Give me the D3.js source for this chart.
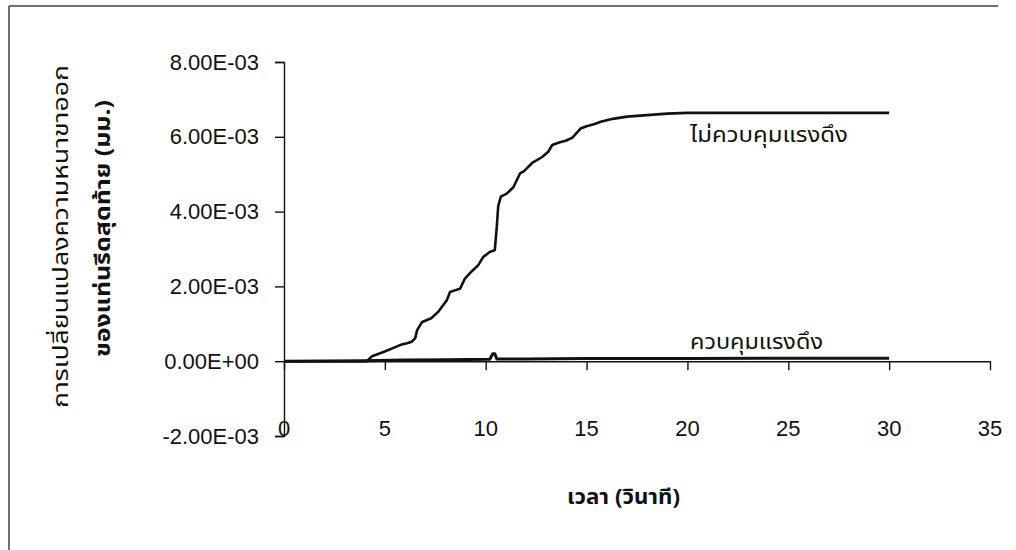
<!DOCTYPE html>
<html>
<head>
<meta charset="utf-8">
<script src="https://cdn.jsdelivr.net/npm/d3@7"></script>
<style>
  html, body { margin: 0; padding: 0; background: #fff; }
  svg { display: block; }
  .tick text { font-family: "Liberation Sans", Arial, sans-serif; }
</style>
</head>
<body>
<svg id="chart" width="1016" height="550"></svg>
<script>
// ---- data (values in mm) ----
const timeUncontrolled = [0, 4.1, 4.36, 4.9, 5.4, 5.75, 6.1, 6.33, 6.5, 6.6, 6.85, 7.3, 7.65, 8.07, 8.23, 8.5, 8.73, 8.97, 9.3, 9.63, 9.88, 10.2, 10.45, 10.55, 10.62, 10.75, 11.04, 11.37, 11.7, 11.9, 12.3, 12.8, 13.1, 13.3, 13.6, 14.0, 14.3, 14.7, 15.0, 15.4, 15.7, 16.3, 17.0, 18.0, 19.0, 20.0, 25.0, 30.0];
const valueUncontrolled = [0, 0, 0.13e-3, 0.24e-3, 0.35e-3, 0.43e-3, 0.48e-3, 0.52e-3, 0.61e-3, 0.83e-3, 1.05e-3, 1.15e-3, 1.32e-3, 1.63e-3, 1.85e-3, 1.90e-3, 1.94e-3, 2.21e-3, 2.40e-3, 2.57e-3, 2.79e-3, 2.92e-3, 2.97e-3, 3.60e-3, 4.15e-3, 4.40e-3, 4.48e-3, 4.65e-3, 5.02e-3, 5.08e-3, 5.30e-3, 5.46e-3, 5.60e-3, 5.78e-3, 5.84e-3, 5.90e-3, 5.98e-3, 6.22e-3, 6.28e-3, 6.34e-3, 6.40e-3, 6.48e-3, 6.54e-3, 6.58e-3, 6.62e-3, 6.64e-3, 6.64e-3, 6.64e-3];
const timeControlled = [0, 4, 6, 8, 10.2, 10.35, 10.45, 10.55, 12, 15, 20, 25, 30];
const valueControlled = [0, 0.01e-3, 0.03e-3, 0.04e-3, 0.05e-3, 0.20e-3, 0.20e-3, 0.06e-3, 0.06e-3, 0.07e-3, 0.07e-3, 0.08e-3, 0.08e-3];
const xTicks = [0, 5, 10, 15, 20, 25, 30, 35];
const yTicks = [-2e-3, 0, 2e-3, 4e-3, 6e-3, 8e-3];
const seriesNames = ["ไม่ควบคุมแรงดึง", "ควบคุมแรงดึง"];
const xTitle = "เวลา (วินาที)";
const yTitleLines = ["การเปลี่ยนแปลงความหนาขาออก", "ของแท่นรีดสุดท้าย (มม.)"];

const thaiFont = '"Noto Sans Thai", "Noto Sans Thai Looped", Loma, Garuda, "Tlwg Typo", "DejaVu Sans", "Noto Sans", sans-serif';

const svg = d3.select("#chart");

// frame
svg.append("line").attr("x1", 9).attr("x2", 998).attr("y1", 6).attr("y2", 6)
  .attr("stroke", "#444").attr("stroke-width", 1.5);
svg.append("line").attr("x1", 9).attr("x2", 9).attr("y1", 6).attr("y2", 550)
  .attr("stroke", "#444").attr("stroke-width", 1.5);

const x = d3.scaleLinear().domain([0, 35]).range([284, 990]);
const y = d3.scaleLinear().domain([-2e-3, 8e-3]).range([436, 62]);

function sci(v) {
  if (v === 0) return "0.00E+00";
  const e = Math.floor(Math.log10(Math.abs(v)) + 1e-9);
  const m = v / Math.pow(10, e);
  const es = (e < 0 ? "-" : "+") + String(Math.abs(e)).padStart(2, "0");
  return m.toFixed(2) + "E" + es;
}

// y axis
const yAxis = svg.append("g").attr("transform", `translate(${x(0)},0)`)
  .call(d3.axisLeft(y).tickValues(yTicks).tickSize(9).tickPadding(16).tickFormat(sci));
yAxis.select(".domain").attr("stroke", "#111").attr("stroke-width", 1.4);
yAxis.selectAll(".tick line").attr("stroke", "#111").attr("stroke-width", 1.4);
yAxis.selectAll(".tick text").attr("font-size", 22).attr("fill", "#111");

// x axis at y = 0
const xAxis = svg.append("g").attr("transform", `translate(0,${y(0)})`)
  .call(d3.axisBottom(x).tickValues(xTicks).tickSize(9).tickSizeOuter(0).tickFormat(""));
xAxis.select(".domain").attr("stroke", "#111").attr("stroke-width", 1.4);
xAxis.selectAll(".tick line").attr("stroke", "#111").attr("stroke-width", 1.4);

// x tick labels placed low
svg.append("g").selectAll("text").data(xTicks).join("text")
  .attr("x", d => x(d)).attr("y", 436)
  .attr("text-anchor", "middle")
  .attr("font-family", '"Liberation Sans", Arial, sans-serif')
  .attr("font-size", 22).attr("fill", "#111")
  .text(d => d);

// lines
const line = d3.line().x(d => x(d[0])).y(d => y(d[1]));
const dataU = timeUncontrolled.map((t, i) => [t, valueUncontrolled[i]]);
const dataC = timeControlled.map((t, i) => [t, valueControlled[i]]);

svg.append("path").datum(dataC).attr("d", line)
  .attr("fill", "none").attr("stroke", "#111").attr("stroke-width", 3).attr("stroke-linejoin", "round");
svg.append("path").datum(dataU).attr("d", line)
  .attr("fill", "none").attr("stroke", "#111").attr("stroke-width", 2.6).attr("stroke-linejoin", "round");

// series labels
svg.append("text").attr("x", 690).attr("y", 142)
  .attr("font-family", thaiFont).attr("font-size", 22).attr("fill", "#111")
  .attr("textLength", 158).attr("lengthAdjust", "spacingAndGlyphs")
  .text(seriesNames[0]);
svg.append("text").attr("x", 690).attr("y", 349)
  .attr("font-family", thaiFont).attr("font-size", 22).attr("fill", "#111")
  .attr("textLength", 133).attr("lengthAdjust", "spacingAndGlyphs")
  .text(seriesNames[1]);

// axis titles
svg.append("text").attr("x", 567).attr("y", 504)
  .attr("font-family", thaiFont).attr("font-size", 21).attr("font-weight", "bold").attr("fill", "#111")
  .attr("textLength", 113).attr("lengthAdjust", "spacingAndGlyphs")
  .text(xTitle);

svg.append("text").attr("transform", "translate(68,408) rotate(-90)")
  .attr("font-family", thaiFont).attr("font-size", 22).attr("fill", "#111")
  .attr("textLength", 343).attr("lengthAdjust", "spacingAndGlyphs")
  .text(yTitleLines[0]);
svg.append("text").attr("transform", "translate(110,357) rotate(-90)")
  .attr("font-family", thaiFont).attr("font-size", 21).attr("font-weight", "bold").attr("fill", "#111")
  .attr("textLength", 257).attr("lengthAdjust", "spacingAndGlyphs")
  .text(yTitleLines[1]);
</script>
</body>
</html>
